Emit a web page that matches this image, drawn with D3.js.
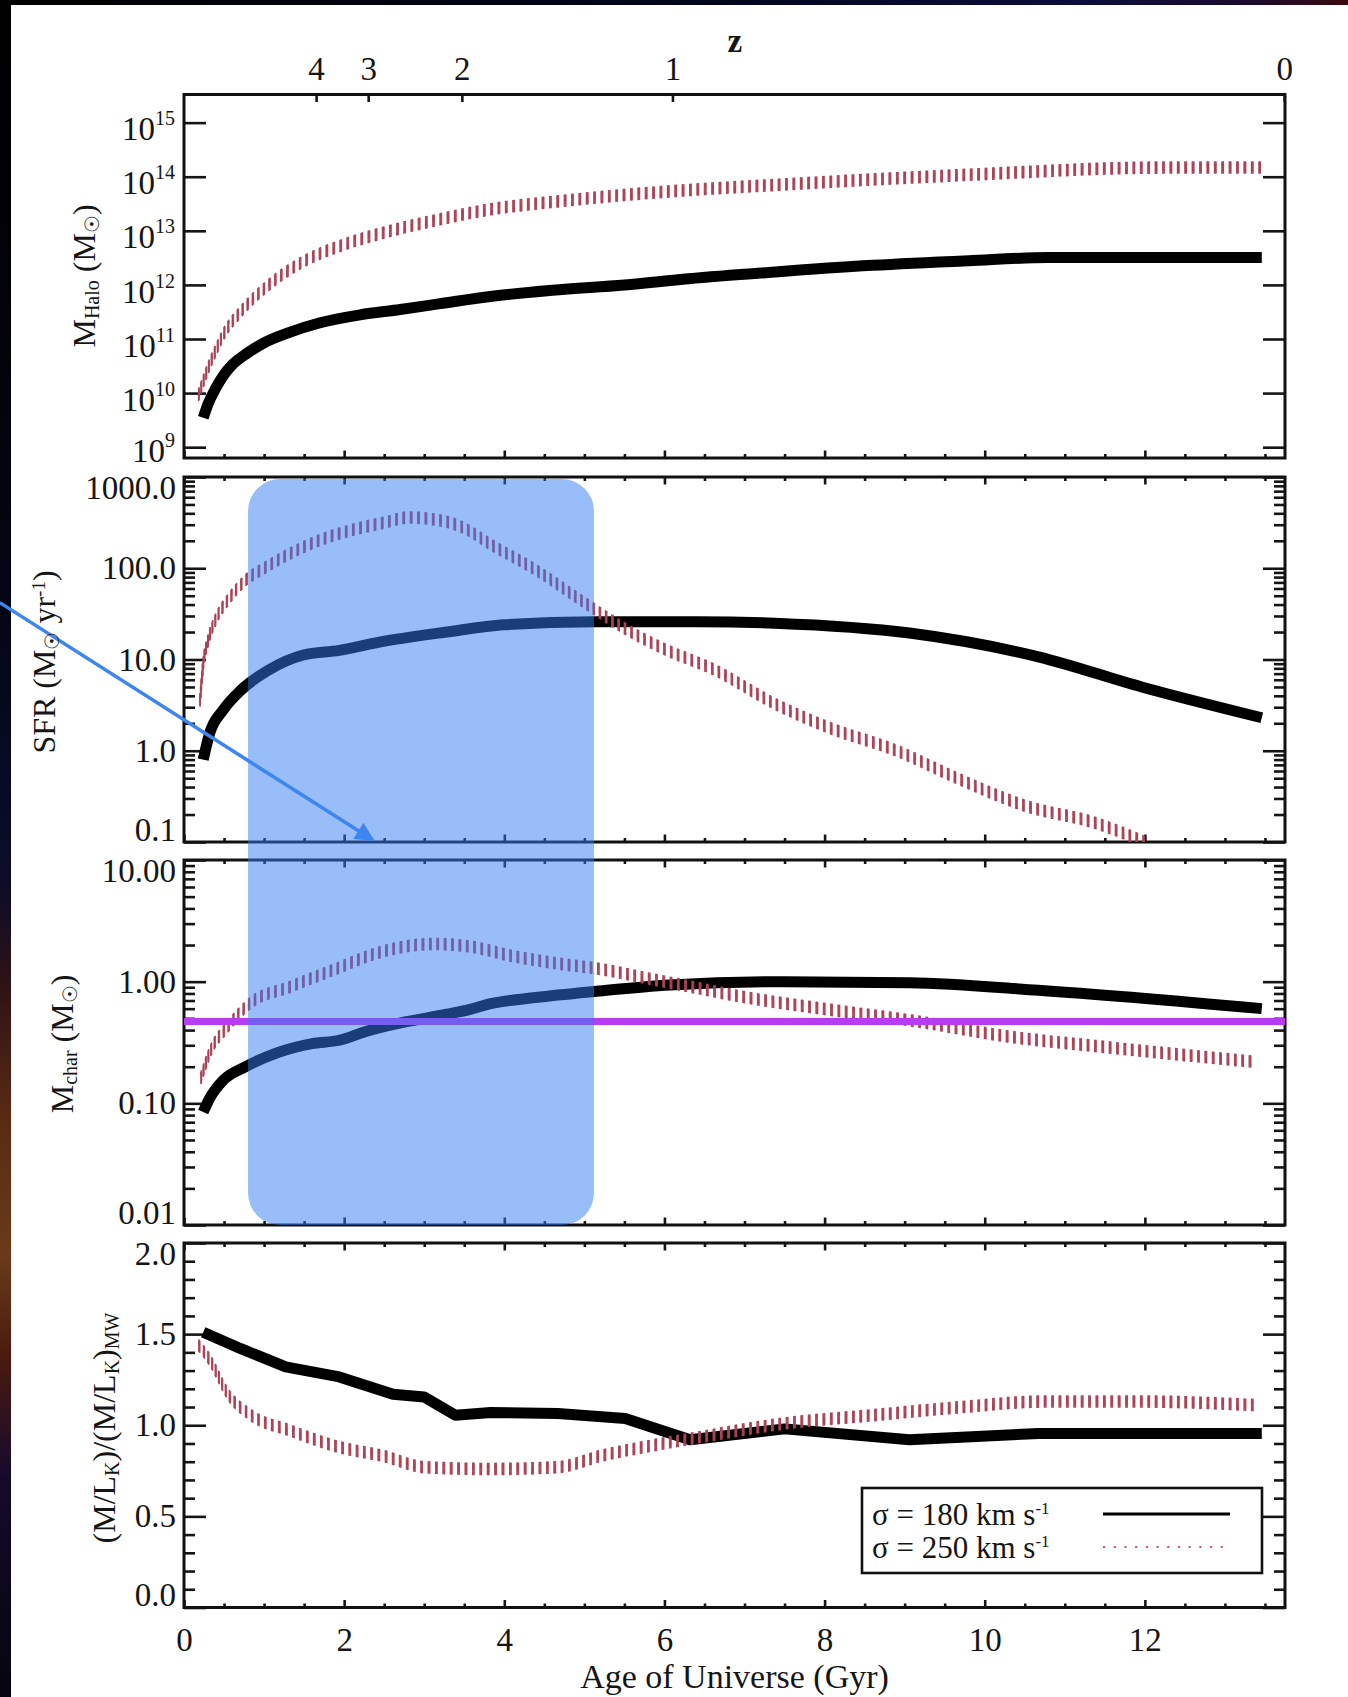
<!DOCTYPE html>
<html><head><meta charset="utf-8">
<script src="https://cdn.jsdelivr.net/npm/d3@7"></script>
<style>
body{margin:0;background:#fff;}
svg{display:block;}
text{font-family:"Liberation Serif","DejaVu Serif",serif;fill:#151515;}
</style>
</head><body>
<svg id="c" width="1348" height="1697"></svg>
<script>
// ---------------- DATA ----------------
const ageHalo180 = [0.24,0.30,0.40,0.50,0.60,0.80,1.0,1.3,1.7,2.2,2.7,3.2,3.9,4.6,5.5,6.3,7.3,8.6,9.8,10.8,12.0,13.46];
const halo180    = [3.5e9,6.3e9,1.26e10,2.2e10,3.3e10,5.6e10,8.5e10,1.3e11,2.0e11,2.8e11,3.5e11,4.5e11,6.3e11,8.0e11,1.0e12,1.3e12,1.7e12,2.3e12,2.8e12,3.2e12,3.2e12,3.2e12];
const ageHalo250 = [0.18,0.25,0.32,0.40,0.49,0.71,1.05,1.49,1.94,2.5,3.17,3.83,4.67,5.5,6.4,7.5,8.6,9.7,10.7,11.4,12.4,13.46];
const halo250    = [9.0e9,1.8e10,3.4e10,6.3e10,1.2e11,3.2e11,9.8e11,2.7e12,5.2e12,9.3e12,1.6e13,2.5e13,3.5e13,4.6e13,5.8e13,7.2e13,8.9e13,1.07e14,1.26e14,1.4e14,1.48e14,1.48e14];

const ageSfr180 = [0.24,0.32,0.49,0.71,1.05,1.49,1.94,2.44,3.28,4.0,5.12,6.4,7.38,9.06,10.67,11.96,13.46];
const sfr180    = [0.8,1.55,2.8,4.6,7.6,11.2,12.6,15.5,20,24,26,26,25,19.5,10.7,5.0,2.3];
const ageSfr250 = [0.20,0.24,0.30,0.40,0.55,0.77,1.0,1.3,1.7,2.1,2.5,2.8,3.1,3.45,3.85,4.4,4.95,5.5,6.0,6.6,7.4,8.05,8.9,9.7,10.5,11.4,12.0];
const sfr250    = [3.5,8.9,16,28,45,74,100,141,204,263,316,360,345,288,178,95,45,22,13,7.9,3.2,1.8,1.0,0.48,0.25,0.16,0.1];

const ageMchar180 = [0.24,0.32,0.49,0.77,1.16,1.6,1.94,2.27,2.72,3.28,3.56,3.83,4.39,5.12,6.07,7.5,9.06,10.67,13.46];
const mchar180    = [0.085,0.11,0.155,0.20,0.26,0.31,0.33,0.39,0.46,0.54,0.59,0.66,0.74,0.83,0.94,1.0,0.98,0.85,0.60];
const ageMchar250 = [0.21,0.32,0.55,0.82,1.33,1.88,2.44,3.11,3.56,4.11,4.67,5.23,5.8,6.4,6.93,8.05,9.17,10.28,11.4,13.35];
const mchar250    = [0.16,0.26,0.43,0.66,0.91,1.26,1.74,2.04,1.95,1.62,1.41,1.26,1.06,0.89,0.76,0.59,0.47,0.355,0.295,0.22];

const ageML180 = [0.24,0.71,1.27,1.94,2.61,3.0,3.39,3.83,4.67,5.51,6.32,7.5,9.06,10.67,13.46];
const ml180    = [1.51,1.42,1.32,1.265,1.17,1.155,1.055,1.07,1.064,1.037,0.92,0.98,0.92,0.955,0.955];
const ageML250 = [0.18,0.32,0.55,0.82,1.33,1.94,2.5,3.0,3.83,4.67,5.23,5.8,6.38,7.5,8.6,9.72,10.73,11.96,13.4];
const ml250    = [1.44,1.36,1.17,1.06,0.97,0.88,0.83,0.77,0.76,0.77,0.835,0.885,0.93,1.01,1.055,1.10,1.13,1.13,1.11];

// redshift axis (top)
const zLabels = ["4","3","2","1","0"];
const zAges   = [1.65,2.30,3.47,6.10,13.74];

// tick labels
const xTickValues = [0,2,4,6,8,10,12];
const haloTicks = [1e9,1e10,1e11,1e12,1e13,1e14,1e15];
const sfrTicks = [0.1,1,10,100,1000];
const sfrTickLabels = ["0.1","1.0","10.0","100.0","1000.0"];
const mcharTicks = [0.01,0.1,1,10];
const mcharTickLabels = ["0.01","0.10","1.00","10.00"];
const mlTicks = [0,0.5,1.0,1.5,2.0];
const mlTickLabels = ["0.0","0.5","1.0","1.5","2.0"];

const legendLabels = ["180","250"];

// annotations (in data units)
const mcharRef = 0.47;                  // horizontal purple line
const boxAges = [0.8, 5.12];            // highlighted band
const boxSfrTop = 950;                  // top of band (SFR units)
const arrowFrom = {age:-2.3, sfr:42};
const arrowTo   = {age:2.36, sfr:0.105};

// ---------------- LAYOUT ----------------
const W = 1348, H = 1697;
const X0 = 184, X1 = 1285;
const svg = d3.select("#c");
const defs = svg.append("defs");

const x = d3.scaleLinear().domain([0, 13.75]).range([X0, X1]);

const panels = [
  {top:94.5,  bottom:458,   y:d3.scaleLog().domain([Math.pow(10,8.8), Math.pow(10,15.52)])},
  {top:477,   bottom:842,   y:d3.scaleLog().domain([0.1, 1000])},
  {top:860,   bottom:1225,  y:d3.scaleLog().domain([0.01, 10])},
  {top:1243,  bottom:1607.5,y:d3.scaleLinear().domain([0, 2])}
];
panels.forEach(p => p.y.range([p.bottom, p.top]));

// ---------------- BACKGROUND ----------------
const gv = defs.append("linearGradient").attr("id","gv").attr("x1",0).attr("y1",0).attr("x2",0).attr("y2",1);
[[0,"#000"],[0.3,"#03040e"],[0.45,"#070a22"],[0.52,"#0c0c28"],[0.58,"#2e1216"],[0.66,"#5a2a14"],[0.74,"#6a3a1a"],[0.8,"#4a1a10"],[0.87,"#160a2c"],[0.95,"#0a0818"],[1,"#050510"]]
  .forEach(s => gv.append("stop").attr("offset",s[0]).attr("stop-color",s[1]));
const gh = defs.append("linearGradient").attr("id","gh").attr("x1",0).attr("y1",0).attr("x2",1).attr("y2",0);
[[0,"#000"],[0.5,"#02041a"],[0.8,"#0a0e3a"],[0.92,"#1a0a30"],[1,"#3a0a10"]]
  .forEach(s => gh.append("stop").attr("offset",s[0]).attr("stop-color",s[1]));
svg.append("rect").attr("width",W).attr("height",H).attr("fill","#000");
svg.append("rect").attr("x",0).attr("y",0).attr("width",11).attr("height",H).attr("fill","url(#gv)");
svg.append("rect").attr("x",0).attr("y",0).attr("width",W).attr("height",5).attr("fill","url(#gh)");
svg.append("rect").attr("x",11).attr("y",5).attr("width",W-11).attr("height",H-5).attr("fill","#fff");

// ---------------- AXES ----------------
const TICK_COL = "#151515";
function styleAxis(g, fs){
  g.select(".domain").remove();
  g.attr("font-family",'"Liberation Serif","DejaVu Serif",serif').attr("font-size",fs||33).attr("color",TICK_COL);
  g.selectAll("line").attr("stroke-width",2.6);
  return g;
}
function range(a,b,s){const r=[];for(let v=a;v<=b+1e-9;v+=s)r.push(+v.toFixed(6));return r;}
const xMinor = range(0.5,13.5,0.5).filter(v => Math.abs(v/2-Math.round(v/2))>1e-6);

const axesG = svg.append("g");
panels.forEach((p,i) => {
  const g = axesG.append("g");
  const bMaj = g.append("g").attr("transform",`translate(0,${p.bottom})`)
    .call(d3.axisBottom(x).tickValues(xTickValues).tickSizeInner(-7.5).tickSizeOuter(0).tickPadding(20)
      .tickFormat(i===3 ? d3.format("d") : ""));
  styleAxis(bMaj, 33);
  styleAxis(g.append("g").attr("transform",`translate(0,${p.bottom})`)
    .call(d3.axisBottom(x).tickValues(xMinor).tickSizeInner(-4).tickSizeOuter(0).tickFormat("")));
  if(i===0){
    const zt = g.append("g").attr("transform",`translate(0,${p.top})`)
      .call(d3.axisTop(x).tickValues(zAges).tickSizeInner(-7.5).tickSizeOuter(0).tickPadding(14.5)
        .tickFormat(d => zLabels[zAges.indexOf(d)]));
    styleAxis(zt, 33);
  } else {
    styleAxis(g.append("g").attr("transform",`translate(0,${p.top})`)
      .call(d3.axisTop(x).tickValues(xTickValues).tickSizeInner(-7.5).tickSizeOuter(0).tickFormat("")));
    styleAxis(g.append("g").attr("transform",`translate(0,${p.top})`)
      .call(d3.axisTop(x).tickValues(xMinor).tickSizeInner(-4).tickSizeOuter(0).tickFormat("")));
  }
});

function yAxisPair(p, major, minor, labels, opts){
  const g = axesG.append("g");
  const left = g.append("g").attr("transform",`translate(${X0},0)`)
    .call(d3.axisLeft(p.y).tickValues(major).tickSizeInner(-22).tickSizeOuter(0).tickPadding(opts.pad||8)
      .tickFormat(d => labels ? labels[major.indexOf(d)] : ""));
  styleAxis(left, 33);
  styleAxis(g.append("g").attr("transform",`translate(${X1},0)`)
    .call(d3.axisRight(p.y).tickValues(major).tickSizeInner(-22).tickSizeOuter(0).tickFormat("")));
  if(minor){
    styleAxis(g.append("g").attr("transform",`translate(${X0},0)`)
      .call(d3.axisLeft(p.y).tickValues(minor).tickSizeInner(-11).tickSizeOuter(0).tickFormat("")));
    styleAxis(g.append("g").attr("transform",`translate(${X1},0)`)
      .call(d3.axisRight(p.y).tickValues(minor).tickSizeInner(-11).tickSizeOuter(0).tickFormat("")));
  }
  if(opts.nudge){
    const t = left.selectAll(".tick text").nodes();
    d3.select(t[0]).attr("dy","-0.06em");
    d3.select(t[t.length-1]).attr("dy","0.64em");
  }
  return left;
}
function logMinor(decades){const r=[];decades.forEach(d=>{for(let k=2;k<=9;k++)r.push(k*d);});return r;}

// panel 1: halo mass (superscript labels)
const hl = yAxisPair(panels[0], haloTicks, null, haloTicks.map(()=>"x"), {pad:9});
hl.selectAll(".tick text").each(function(d){
  const t = d3.select(this); t.text(null).attr("dy", d===1e9 ? "0.42em" : "0.52em");
  t.append("tspan").text("10");
  t.append("tspan").attr("font-size",20).attr("dy",-15).text(String(Math.round(Math.log10(d))));
});
yAxisPair(panels[1], sfrTicks, logMinor([0.1,1,10,100]), sfrTickLabels, {nudge:true});
yAxisPair(panels[2], mcharTicks, logMinor([0.01,0.1,1]), mcharTickLabels, {nudge:true});
yAxisPair(panels[3], mlTicks, range(0.1,1.9,0.1).filter(v=>Math.abs(v*2-Math.round(v*2))>1e-6), mlTickLabels, {nudge:true});

// frames
panels.forEach(p => {
  axesG.append("rect").attr("x",X0).attr("y",p.top).attr("width",X1-X0).attr("height",p.bottom-p.top)
    .attr("fill","none").attr("stroke","#111").attr("stroke-width",3);
});

// ---------------- CURVES ----------------
const series = [
  {p:0, a:ageHalo180, v:halo180, red:false},
  {p:0, a:ageHalo250, v:halo250, red:true},
  {p:1, a:ageSfr180, v:sfr180, red:false},
  {p:1, a:ageSfr250, v:sfr250, red:true},
  {p:2, a:ageMchar180, v:mchar180, red:false},
  {p:2, a:ageMchar250, v:mchar250, red:true},
  {p:3, a:ageML180, v:ml180, red:false, lin:true},
  {p:3, a:ageML250, v:ml250, red:true},
];
panels.forEach((p,i) => {
  defs.append("clipPath").attr("id","clip"+i).append("rect")
    .attr("x",X0).attr("y",p.top).attr("width",X1-X0).attr("height",p.bottom-p.top);
});
const curveG = svg.append("g");
const RED = "#ab4356";
series.forEach(s => {
  const p = panels[s.p];
  const pts = s.a.map((a,i)=>[a, s.v[i]]);
  const line = d3.line().x(d=>x(d[0])).y(d=>p.y(d[1])).curve(s.lin ? d3.curveLinear : d3.curveMonotoneX);
  const g = curveG.append("g").attr("clip-path",`url(#clip${s.p})`);
  if(!s.red){
    g.append("path").attr("d",line(pts)).attr("fill","none").attr("stroke","#000")
      .attr("stroke-width",11).attr("stroke-linejoin","round").attr("stroke-linecap","butt");
  } else {
    const d = line(pts);
    for(let k=-5.5;k<=5.51;k+=1.1){
      g.append("path").attr("d",d).attr("transform",`translate(0,${k})`)
        .attr("fill","none").attr("stroke",RED).attr("stroke-width",1.6)
        .attr("stroke-dasharray","2.8 4.6").attr("stroke-linecap","butt");
    }
  }
});

// purple reference line
const p3 = panels[2];
svg.append("line").attr("x1",X0).attr("x2",X1).attr("y1",p3.y(mcharRef)).attr("y2",p3.y(mcharRef))
  .attr("stroke","#b83cf2").attr("stroke-width",7);

// highlighted band
const by0 = panels[1].y(boxSfrTop), by1 = panels[2].y(0.01);
svg.append("rect").attr("x",x(boxAges[0])).attr("y",by0).attr("width",x(boxAges[1])-x(boxAges[0]))
  .attr("height",by1-by0).attr("rx",32).attr("ry",32)
  .attr("fill","rgb(51,123,243)").attr("fill-opacity",0.5);

// arrow
defs.append("marker").attr("id","ah").attr("viewBox","0 0 10 10").attr("refX",9).attr("refY",5)
  .attr("markerWidth",6.5).attr("markerHeight",5.5).attr("orient","auto").attr("markerUnits","strokeWidth")
  .append("path").attr("d","M0,0 L10,5 L0,10 z").attr("fill","#3d85f0");
const p2 = panels[1];
svg.append("line").attr("x1",x(arrowFrom.age)).attr("y1",p2.y(arrowFrom.sfr))
  .attr("x2",x(arrowTo.age)).attr("y2",p2.y(arrowTo.sfr))
  .attr("stroke","#3d85f0").attr("stroke-width",3.5).attr("marker-end","url(#ah)");

// ---------------- TEXT ----------------
function rotTitle(cx, cy, parts){
  const t = svg.append("text").attr("transform",`translate(${cx},${cy}) rotate(-90)`)
    .attr("text-anchor","middle").attr("font-size",32).attr("dy","0.35em");
  parts.forEach(pt => {
    const ts = t.append("tspan").text(pt[0]);
    if(pt[1]==="sub") ts.attr("font-size",20).attr("baseline-shift","-22%");
    if(pt[1]==="sup") ts.attr("font-size",19).attr("baseline-shift","55%");
  });
}
rotTitle(84, 276, [["M"],["Halo","sub"],[" (M"],["☉","sub"],[")"]]);
rotTitle(44, 662, [["SFR (M"],["☉","sub"],[" yr"],["-1","sup"],[")"]]);
rotTitle(62, 1044, [["M"],["char","sub"],[" (M"],["☉","sub"],[")"]]);
rotTitle(104, 1428, [["(M/L"],["K","sub"],[")/(M/L"],["K","sub"],[")"],["MW","sub"]]);

svg.append("text").attr("x",(X0+X1)/2).attr("y",1688).attr("text-anchor","middle")
  .attr("font-size",34).text("Age of Universe (Gyr)");
svg.append("text").attr("x",x(6.88)).attr("y",52).attr("text-anchor","middle")
  .attr("font-size",33).attr("font-weight","bold").text("z");

// ---------------- LEGEND ----------------
const lg = svg.append("g");
lg.append("rect").attr("x",862).attr("y",1488).attr("width",400).attr("height",85)
  .attr("fill","#fff").attr("stroke","#111").attr("stroke-width",2.6);
legendLabels.forEach((lab,i) => {
  const yb = 1525 + i*33;
  const t = lg.append("text").attr("x",872).attr("y",yb).attr("font-size",31);
  t.append("tspan").text(`σ = ${lab} km s`);
  t.append("tspan").attr("font-size",17).attr("baseline-shift","65%").text("-1");
  const ly = yb - 11;
  if(i===0){
    lg.append("line").attr("x1",1103).attr("x2",1230).attr("y1",ly).attr("y2",ly)
      .attr("stroke","#000").attr("stroke-width",3);
  } else {
    lg.append("line").attr("x1",1103).attr("x2",1230).attr("y1",ly).attr("y2",ly)
      .attr("stroke","#c0607a").attr("stroke-width",2.2).attr("stroke-dasharray","2.2 8.5");
  }
});
</script>
</body></html>
